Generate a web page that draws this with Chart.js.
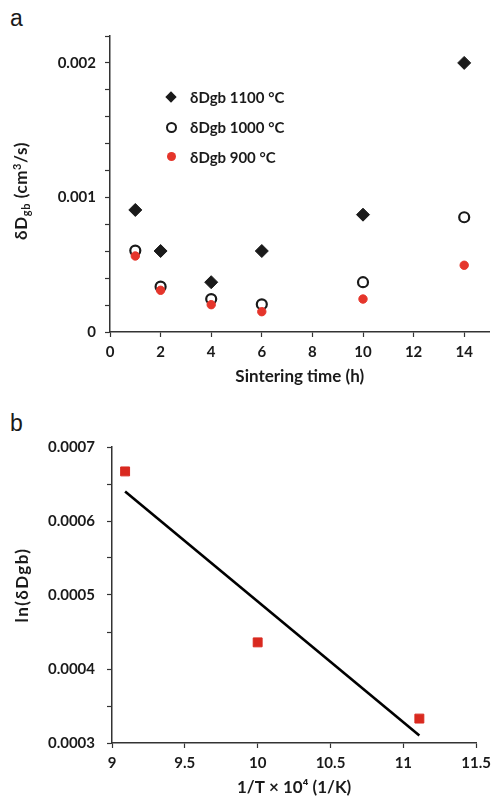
<!DOCTYPE html>
<html>
<head>
<meta charset="utf-8">
<script src="https://cdn.jsdelivr.net/npm/chart.js@4/dist/chart.umd.min.js"></script>
<style>
    body { margin: 0; background: #fff; }
    #page { position: relative; width: 497px; height: 798px; font-family: Lato, "Open Sans", sans-serif; color: #1a1a1a; }
    canvas { position: absolute; left: 0; }
    .panel { position: absolute; font-family: "Liberation Sans", Arial, sans-serif; font-size: 23px; }
    .ytitle { position: absolute; font-weight: bold; font-size: 17px; white-space: nowrap; transform: translate(-50%, -50%) rotate(-90deg); }
    .ytitle sub { font-size: 11px; vertical-align: -3px; }
    .ytitle sup { font-size: 11px; vertical-align: 6px; }
    .legend { position: absolute; left: 166px; top: 88px; font-weight: bold; font-size: 15px; }
    .legend div { height: 30px; line-height: 18px; position: relative; padding-left: 24px; }
    .legend i { position: absolute; left: 0; top: 4px; }
</style>
</head>
<body>
<div id="page">
    <div class="panel" style="left:10px; top:5px;">a</div>
    <div class="panel" style="left:10px; top:410px;">b</div>
    <canvas id="timeChart" width="497" height="400" style="top:0"></canvas>
    <canvas id="arrChart" width="497" height="398" style="top:400px"></canvas>
    <div class="ytitle" style="left:21px; top:191px; letter-spacing:0.6px;">δD<sub>gb</sub> (cm<sup>3</sup>/s)</div>
    <div class="ytitle" style="left:21px; top:585px; letter-spacing:1.4px;">ln(δDgb)</div>
    <div class="legend" id="legend"></div>
</div>
<script>
// panel a: grain boundary diffusion vs sintering time
const hours = [1, 2, 4, 6, 10, 14];
const d1100 = [0.000907, 0.000602, 0.000370, 0.000602, 0.000872, 0.002];
const d1000 = [0.000605, 0.000337, 0.000245, 0.000206, 0.000370, 0.000853];
const d900 = [0.000565, 0.000310, 0.000203, 0.000151, 0.000245, 0.000496];
const seriesNames = ["δDgb 1100 °C", "δDgb 1000 °C", "δDgb 900 °C"];

// panel b: arrhenius plot
const invT = [9.09, 10, 11.11];
const lnD = [0.000667, 0.000436, 0.000333];
const fitX = [9.09, 11.11];
const fitY = [0.00064, 0.00031];

const RED = "#e5352b";
const INK = "#1a1a1a";
const tickFont = { family: "Lato", size: 15, weight: "bold" };
const titleFont = { family: "Lato", size: 17, weight: "bold" };

function pts(xs, ys) {
    return xs.map((x, i) => ({ x: x, y: ys[i] }));
}

function axisStyle() {
    return {
        grid: { drawOnChartArea: false, drawTicks: true, tickLength: 5, tickColor: "#333", tickWidth: 1.2 },
        border: { display: true, color: "#333", width: 1.5 }
    };
}

function loadTimeChart() {
    const ctx = document.getElementById("timeChart").getContext("2d");

    new Chart(ctx, {
        type: "scatter",
        data: {
            datasets: [
                { label: seriesNames[0], data: pts(hours, d1100), pointStyle: "rectRot", pointRadius: 6.5,
                  backgroundColor: INK, borderColor: INK, order: 3 },
                { label: seriesNames[1], data: pts(hours, d1000), pointStyle: "circle", pointRadius: 5,
                  backgroundColor: "rgba(255,255,255,0)", borderColor: INK, borderWidth: 2.2, order: 2 },
                { label: seriesNames[2], data: pts(hours, d900), pointStyle: "circle", pointRadius: 4.2,
                  backgroundColor: RED, borderColor: RED, order: 1 }
            ]
        },
        options: {
            responsive: false,
            animation: false,
            layout: { padding: { top: 36, right: 6, bottom: 13, left: 0 } },
            plugins: { legend: { display: false }, tooltip: { enabled: false } },
            scales: {
                x: {
                    type: "linear", min: 0, max: 15,
                    ...axisStyle(),
                    afterFit: s => { s.height = 55; },
                    ticks: { stepSize: 2, includeBounds: false, padding: 6, color: INK, font: tickFont },
                    title: { display: true, text: "Sintering time (h)", color: INK, padding: 0, font: titleFont }
                },
                y: {
                    min: 0, max: 0.0022,
                    ...axisStyle(),
                    afterFit: s => { s.width = 110; },
                    ticks: {
                        stepSize: 0.0002, padding: 9, color: INK, font: tickFont,
                        callback: v => {
                            const k = v * 1000;
                            if (Math.abs(k - Math.round(k)) > 1e-6) return "";
                            return Math.round(k) === 0 ? "0" : (Math.round(k) / 1000).toFixed(3);
                        }
                    }
                }
            }
        }
    });
}

function loadArrChart() {
    const ctx = document.getElementById("arrChart").getContext("2d");

    new Chart(ctx, {
        type: "scatter",
        data: {
            datasets: [
                { data: pts(fitX, fitY), showLine: true, borderColor: "#000", borderWidth: 2.6, pointRadius: 0, order: 2 },
                { data: pts(invT, lnD), pointStyle: "rect", pointRadius: 6.3,
                  backgroundColor: "#d9291f", borderColor: "#d9291f", order: 1 }
            ]
        },
        options: {
            responsive: false,
            animation: false,
            layout: { padding: { top: 47, right: 18, bottom: 0, left: 0 } },
            plugins: { legend: { display: false }, tooltip: { enabled: false } },
            scales: {
                x: {
                    type: "linear", min: 9, max: 11.5,
                    ...axisStyle(),
                    afterFit: s => { s.height = 55; },
                    ticks: { stepSize: 0.5, padding: 6, color: INK, font: tickFont,
                             callback: v => String(Math.round(v * 10) / 10) },
                    title: { display: true, text: "1/T × 10⁴ (1/K)", color: INK, padding: 0, font: titleFont }
                },
                y: {
                    min: 0.0003, max: 0.0007,
                    ...axisStyle(),
                    afterFit: s => { s.width = 112; },
                    ticks: {
                        stepSize: 0.00005, padding: 12, color: INK, font: tickFont,
                        callback: v => {
                            const k = v * 10000;
                            if (Math.abs(k - Math.round(k)) > 1e-6) return "";
                            return (Math.round(k) / 10000).toFixed(4);
                        }
                    }
                }
            }
        }
    });
}

function buildLegend() {
    const box = document.getElementById("legend");
    const marks = [
        '<i style="width:8px;height:8px;background:' + INK + ';transform:translate(1px,1px) rotate(45deg);"></i>',
        '<i style="width:7px;height:7px;border:2px solid ' + INK + ';border-radius:50%;"></i>',
        '<i style="width:9px;height:9px;background:' + RED + ';border-radius:50%;left:1px;"></i>'
    ];
    seriesNames.forEach((name, i) => {
        box.innerHTML += `<div>${marks[i]}${name}</div>`;
    });
}

buildLegend();
loadTimeChart();
loadArrChart();
</script>
</body>
</html>
